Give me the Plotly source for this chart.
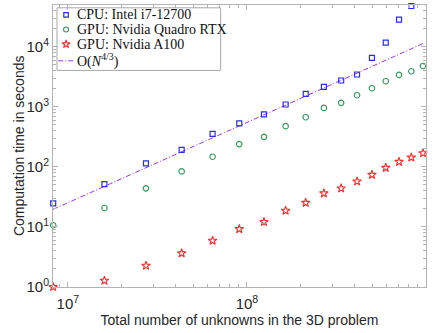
import numpy as np
import plotly.graph_objects as go

# Problem sizes (total unknowns) and measured run times in seconds
unknowns = [8.28e6, 1.60e7, 2.73e7, 4.32e7, 6.43e7, 9.06e7, 1.245e8, 1.645e8,
            2.13e8, 2.69e8, 3.36e8, 4.12e8, 4.99e8, 5.96e8, 7.07e8, 8.28e8, 9.62e8]
cpu_i7 = [24.5, 51.5, 114, 192, 355, 529, 747, 1096, 1647, 2154, 2754, 3467,
          6553, 11830, 28600, 48200, None]
gpu_quadro = [10.6, 20.5, 43.7, 83.8, 147, 239, 316, 477, 673, 962, 1166, 1567,
              2050, 2682, 3415, 3937, 4822]
gpu_a100 = [0.99, 1.26, 2.24, 3.6, 5.84, 9.16, 12.0, 18.5, 25.1, 36.1, 43.7, 57.1,
            73.5, 96.2, 121, 143, 169]

# Reference scaling line O(N^(4/3)) endpoints
ref_unknowns = [8.28e6, 9.62e8]
ref_time = [19.5, 11400]

labels = ["CPU: Intel i7-12700", "GPU: Nvidia Quadro RTX", "GPU: Nvidia A100",
          "O(<i>N</i><sup>4/3</sup>)"]

BLUE = "#2b2bff"
GREEN = "#2e9a5c"
RED = "#ff2a2a"
PURPLE = "#9b35f0"
AXIS = "#b4b4b4"
TEXT = "#262626"
DASHDOT = "5px,2px,1px,2px"

fig = go.Figure()

fig.add_trace(go.Scatter(x=ref_unknowns, y=ref_time, mode="lines", cliponaxis=False,
                         line=dict(color=PURPLE, width=1, dash=DASHDOT),
                         showlegend=False))
fig.add_trace(go.Scatter(x=unknowns, y=cpu_i7, mode="markers", cliponaxis=False,
                         marker=dict(symbol="square-open", size=5, color=BLUE,
                                     line=dict(width=1.2, color=BLUE)),
                         showlegend=False))
fig.add_trace(go.Scatter(x=unknowns, y=gpu_quadro, mode="markers", cliponaxis=False,
                         marker=dict(symbol="circle-open", size=5.5, color=GREEN,
                                     line=dict(width=1.1, color=GREEN)),
                         showlegend=False))
fig.add_trace(go.Scatter(x=unknowns, y=gpu_a100, mode="markers", cliponaxis=False,
                         marker=dict(symbol="star-open", size=6.5, color=RED,
                                     line=dict(width=1.1, color=RED)),
                         showlegend=False))

# Hand-built legend on an invisible overlay axis spanning the plot area
row_y = [0.965, 0.913, 0.861, 0.802]
key_x = 0.035
fig.add_trace(go.Scatter(x=[key_x], y=[row_y[0]], xaxis="x2", yaxis="y2", mode="markers",
                         marker=dict(symbol="square-open", size=4.5, color=BLUE,
                                     line=dict(width=1.2, color=BLUE)),
                         showlegend=False, hoverinfo="skip"))
fig.add_trace(go.Scatter(x=[key_x], y=[row_y[1]], xaxis="x2", yaxis="y2", mode="markers",
                         marker=dict(symbol="circle-open", size=5, color=GREEN,
                                     line=dict(width=1.1, color=GREEN)),
                         showlegend=False, hoverinfo="skip"))
fig.add_trace(go.Scatter(x=[key_x], y=[row_y[2]], xaxis="x2", yaxis="y2", mode="markers",
                         marker=dict(symbol="star-open", size=6, color=RED,
                                     line=dict(width=1.1, color=RED)),
                         showlegend=False, hoverinfo="skip"))
fig.add_trace(go.Scatter(x=[0.014, 0.056], y=[row_y[3], row_y[3]], xaxis="x2", yaxis="y2",
                         mode="lines",
                         line=dict(color=PURPLE, width=1, dash=DASHDOT),
                         showlegend=False, hoverinfo="skip"))

annotations = []
for yy, txt in zip(row_y, labels):
    annotations.append(dict(x=0.060, y=yy, xref="x2", yref="y2", text=txt,
                            showarrow=False, xanchor="left", yanchor="middle",
                            font=dict(family="Liberation Serif", size=14, color="#111111")))

# Y-axis title placed as a rotated annotation
annotations.append(dict(x=-0.091, y=0.5, xref="paper", yref="paper",
                        text="Computation time in seconds", textangle=-90,
                        showarrow=False, xanchor="center", yanchor="middle",
                        font=dict(family="Liberation Sans", size=14, color=TEXT)))

shapes = [dict(type="rect", xref="x2", yref="y2", x0=0.0107, x1=0.4496,
               y0=0.768, y1=0.990, line=dict(color="#a8a8a8", width=1),
               fillcolor="white", layer="below")]

minor_x = [m * 10 ** e for e in range(6, 9) for m in range(2, 10)]
minor_y = [m * 10 ** e for e in range(0, 5) for m in range(2, 10)]

fig.update_layout(
    width=434, height=333,
    margin=dict(l=53, r=8, t=5, b=46),
    paper_bgcolor="white", plot_bgcolor="white",
    font=dict(family="Liberation Sans", size=14, color=TEXT),
    annotations=annotations,
    shapes=shapes,
    xaxis=dict(type="log", range=[np.log10(8.26e6), 9],
               tickvals=[1e7, 1e8, 1e9],
               ticktext=["10<sup>7</sup>", "10<sup>8</sup>", "10<sup>9</sup>"],
               ticks="inside", ticklen=5, tickcolor=AXIS, tickwidth=1,
               minor=dict(tickvals=minor_x, ticks="inside", ticklen=3,
                          tickcolor=AXIS, showgrid=False),
               showline=True, linecolor=AXIS, linewidth=1, mirror="ticks",
               showgrid=False, zeroline=False, ticklabelstandoff=3,
               tickfont=dict(size=15, color=TEXT),
               title=dict(text="Total number of unknowns in the 3D problem",
                          font=dict(size=14, color=TEXT), standoff=2)),
    yaxis=dict(type="log", range=[-0.006, 4.7],
               tickvals=[1, 10, 100, 1000, 10000],
               ticktext=["10<sup>0</sup>", "10<sup>1</sup>", "10<sup>2</sup>",
                         "10<sup>3</sup>", "10<sup>4</sup>"],
               ticks="inside", ticklen=5, tickcolor=AXIS, tickwidth=1,
               minor=dict(tickvals=minor_y, ticks="inside", ticklen=3,
                          tickcolor=AXIS, showgrid=False),
               showline=True, linecolor=AXIS, linewidth=1, mirror="ticks",
               showgrid=False, zeroline=False,
               tickfont=dict(size=15, color=TEXT)),
    xaxis2=dict(overlaying="x", range=[0, 1], visible=False, anchor="y2"),
    yaxis2=dict(overlaying="y", range=[0, 1], visible=False, anchor="x2"),
)

fig.write_html("out.html")
